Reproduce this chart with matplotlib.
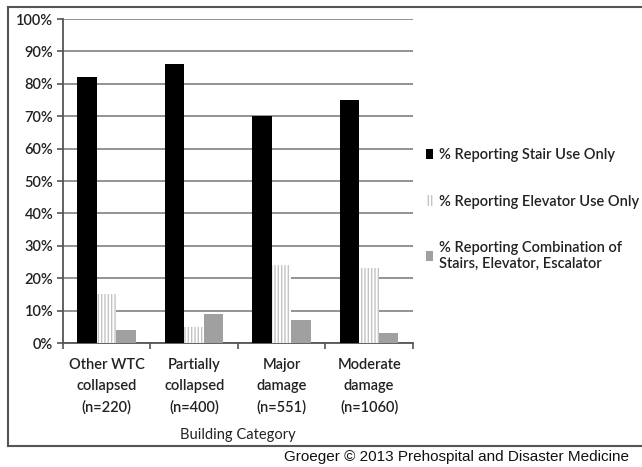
import numpy as np
import matplotlib.pyplot as plt
from matplotlib.lines import Line2D

plt.rcParams['font.family'] = ['Lato', 'DejaVu Sans']
plt.rcParams['font.weight'] = 'semibold'
plt.rcParams['hatch.linewidth'] = 1.0

categories = ['Other WTC\ncollapsed\n(n=220)', 'Partially\ncollapsed\n(n=400)',
              'Major\ndamage\n(n=551)', 'Moderate\ndamage\n(n=1060)']
stairs_only = [82, 86, 70, 75]
elevator_only = [15, 5, 24, 23]
combination = [4, 9, 7, 3]
series_labels = ['% Reporting Stair Use Only',
                 '% Reporting Elevator Use Only',
                 '% Reporting Combination of\nStairs, Elevator, Escalator']

fig = plt.figure(figsize=(6.42, 4.67), dpi=100)
ax = fig.add_axes([0.0981, 0.2655, 0.545, 0.6938])

x = np.arange(len(categories))
w = 0.223
ax.bar(x - w, stairs_only, w, color='black', zorder=3, label=series_labels[0])
ax.bar(x, elevator_only, w, color='white', edgecolor='#c4c4c4', hatch='|||||',
       linewidth=0, zorder=3, label=series_labels[1])
ax.bar(x + w, combination, w, color='#a0a0a0', zorder=3, label=series_labels[2])

ax.set_xlim(-0.5, len(categories) - 0.5)
ax.set_ylim(0, 100)
ax.set_yticks(np.arange(0, 101, 10))
ax.set_yticklabels([f'{v}%' for v in range(0, 101, 10)])
ax.yaxis.grid(True, color='#8a8a8a', linewidth=1.3, zorder=0)
ax.set_axisbelow(True)

ax.set_xticks(x)
ax.set_xticklabels(categories, linespacing=1.6)
ax.set_xticks(np.arange(-0.5, len(categories)), minor=True)
ax.tick_params(axis='x', which='major', length=0, pad=11, labelsize=10.5, colors='#222222')
ax.tick_params(axis='x', which='minor', length=4, width=1.2, color='#555555', direction='out')
ax.tick_params(axis='y', length=4, width=1.2, color='#555555', labelsize=10.5,
               labelcolor='#222222', pad=3)
ax.set_xlabel('Building Category', fontsize=10.5, color='#222222', labelpad=10)

for side in ['top', 'right']:
    ax.spines[side].set_visible(False)
for side in ['left', 'bottom']:
    ax.spines[side].set_color('#555555')
    ax.spines[side].set_linewidth(1.3)

ax.legend(loc='center left', bbox_to_anchor=(426 / 642, 0.551), bbox_transform=fig.transFigure,
          frameon=False, fontsize=10.5, handlelength=0.5, handleheight=0.7,
          handletextpad=0.4, labelspacing=2.2, borderpad=0, borderaxespad=0,
          labelcolor='#222222')

# outer frame around the chart
fig.add_artist(Line2D([8 / 642, 8 / 642], [1 - 7 / 467, 1 - 446 / 467],
                      transform=fig.transFigure, color='#555555', lw=1.5))
fig.add_artist(Line2D([8 / 642, 1.0], [1 - 7 / 467, 1 - 7 / 467],
                      transform=fig.transFigure, color='#555555', lw=1.5))
fig.add_artist(Line2D([8 / 642, 1.0], [1 - 446 / 467, 1 - 446 / 467],
                      transform=fig.transFigure, color='#555555', lw=1.5))

fig.text(284 / 642, 1 - 457 / 467, 'Groeger \u00a9 2013 Prehospital and Disaster Medicine',
         family='Liberation Sans', fontweight='normal', fontsize=11.0, color='#111111',
         va='center', ha='left')

fig.savefig('out.png', dpi=100)
